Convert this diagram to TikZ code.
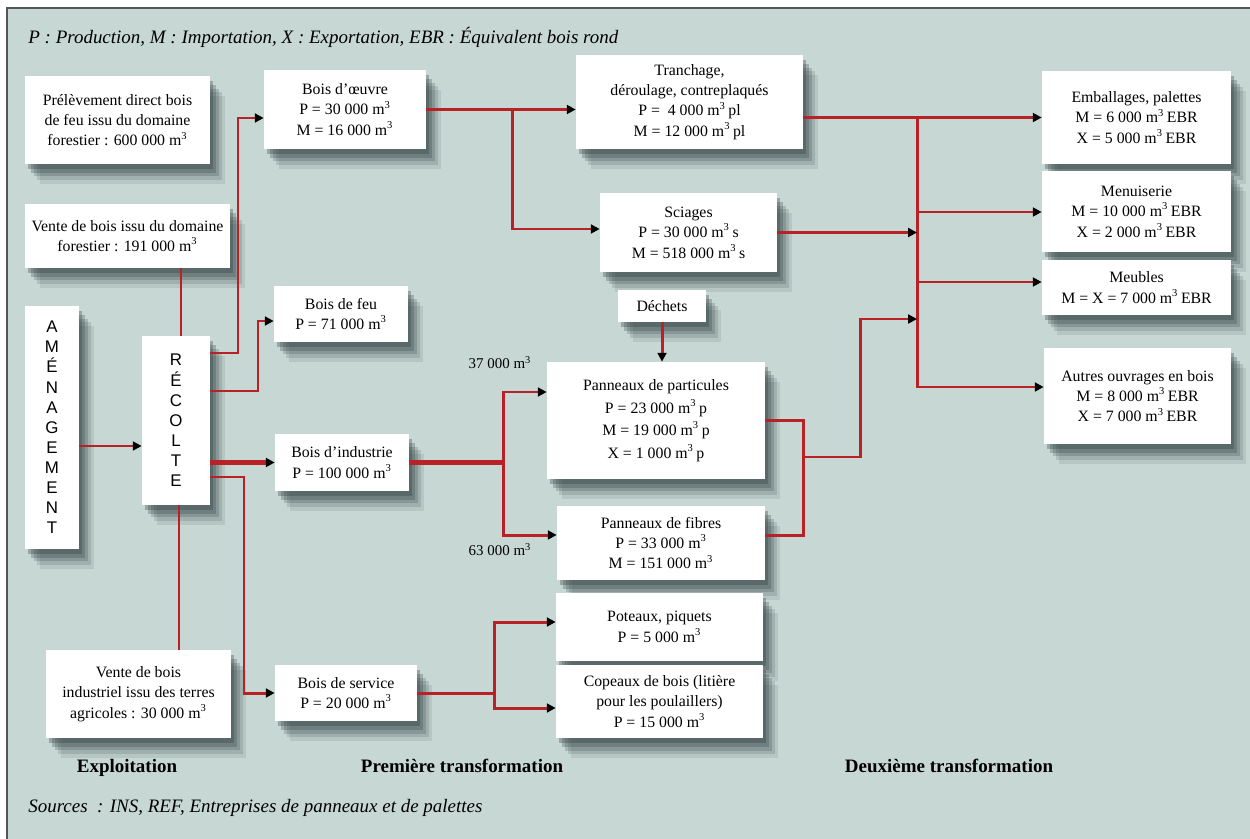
\documentclass[tikz,border=0pt]{standalone}
\usepackage{fontspec}
\setmainfont{Liberation Serif}
\newfontfamily\arialfont{Liberation Sans}
\usetikzlibrary{arrows.meta}
\definecolor{fondgris}{RGB}{199,215,212}
\definecolor{rougeflux}{RGB}{184,34,38}
\definecolor{ombre}{RGB}{40,55,55}
\definecolor{cadre}{RGB}{85,85,85}

\begin{document}
\begin{tikzpicture}[x=0.02cm,y=-0.02cm,
    ombrage/.style={
      preaction={fill=ombre,fill opacity=0.1,transform canvas={xshift=0.3cm,yshift=-0.4cm}},
      preaction={fill=ombre,fill opacity=0.15,transform canvas={xshift=0.24cm,yshift=-0.32cm}},
      preaction={fill=ombre,fill opacity=0.2,transform canvas={xshift=0.18cm,yshift=-0.25cm}},
      preaction={fill=ombre,fill opacity=0.25,transform canvas={xshift=0.12cm,yshift=-0.18cm}},
      preaction={fill=ombre,fill opacity=0.3,transform canvas={xshift=0.06cm,yshift=-0.1cm}}},
    boite/.style={ombrage,fill=white,inner sep=0pt,align=center,font=\fontsize{9}{11.6}\selectfont},
    lettres/.style={boite,font=\arialfont\fontsize{9.6}{11.45}\selectfont},
    titre/.style={anchor=base,font=\bfseries\fontsize{10.8}{13}\selectfont},
    note/.style={anchor=base west,inner sep=0pt,font=\itshape\fontsize{10.8}{13}\selectfont},
    petit/.style={font=\fontsize{8.5}{10}\selectfont},
    flux/.style={draw=rougeflux,line width=1.7pt},
    grosflux/.style={draw=rougeflux,line width=2.6pt},
    >={Triangle[length=5pt,width=5pt,color=black]}]
    \useasboundingbox (0,0) rectangle (1250,838);
    \fill[fondgris] (7,8) rectangle (1252,840);
    \draw[cadre,line width=1.2pt] (7,840) -- (7,8) -- (1252,8);
    \node[note] (legende) at (28,44) {P : Production, M : Importation, X : Exportation, EBR : Équivalent bois rond};
    \node[note] (sources) at (28,812) {Sources\ \ : INS, REF, Entreprises de panneaux et de palettes};
    \node[titre] (exploit) at (127,772) {Exploitation};
    \node[titre] (premiere) at (462,772) {Première transformation};
    \node[titre] (deuxieme) at (949,772) {Deuxième transformation};
    \node[boite,minimum width=3.7cm,minimum height=1.76cm] (prelev) at (117.5,120) {Prélèvement direct bois\\de feu issu du domaine\\forestier : 600 000 m\textsuperscript{3}};
    \node[boite,minimum width=4.1cm,minimum height=1.28cm] (ventedom) at (127.5,236) {Vente de bois issu du domaine\\forestier : 191 000 m\textsuperscript{3}};
    \node[lettres,minimum width=1.08cm,minimum height=4.86cm] (amenag) at (52,427.5) {A\\M\\É\\N\\A\\G\\E\\M\\E\\N\\T};
    \node[lettres,minimum width=1.36cm,minimum height=3.38cm] (recolte) at (176,420.5) {R\\É\\C\\O\\L\\T\\E};
    \node[boite,minimum width=3.7cm,minimum height=1.76cm] (venteind) at (138.5,694) {Vente de bois\\industriel issu des terres\\agricoles : 30 000 m\textsuperscript{3}};
    \node[boite,minimum width=3.24cm,minimum height=1.58cm] (oeuvre) at (345,109.5) {Bois d’œuvre\\P = 30 000 m\textsuperscript{3}\\M = 16 000 m\textsuperscript{3}};
    \node[boite,minimum width=2.68cm,minimum height=1.12cm] (feu) at (341,314) {Bois de feu\\P = 71 000 m\textsuperscript{3}};
    \node[boite,minimum width=2.68cm,minimum height=1.14cm] (industrie) at (342,462.5) {Bois d’industrie\\P = 100 000 m\textsuperscript{3}};
    \node[boite,minimum width=2.84cm,minimum height=1.12cm] (service) at (346,693) {Bois de service\\P = 20 000 m\textsuperscript{3}};
    \node[boite,minimum width=4.54cm,minimum height=1.88cm] (tranchage) at (689.5,102) {Tranchage,\\déroulage, contreplaqués\\P =\ \ 4 000 m\textsuperscript{3}\,pl\\M = 12 000 m\textsuperscript{3}\,pl};
    \node[boite,minimum width=3.54cm,minimum height=1.58cm] (sciages) at (688.5,232.5) {Sciages\\P = 30 000 m\textsuperscript{3}\,s\\M = 518 000 m\textsuperscript{3}\,s};
    \node[boite,minimum width=1.76cm,minimum height=0.64cm] (dechets) at (662,306) {Déchets};
    \node[boite,minimum width=4.36cm,minimum height=2.34cm,font=\fontsize{9}{12.8}\selectfont] (particules) at (656,420.5) {Panneaux de particules\\P = 23 000 m\textsuperscript{3}\,p\\M = 19 000 m\textsuperscript{3}\,p\\X = 1 000 m\textsuperscript{3}\,p};
    \node[boite,minimum width=4.16cm,minimum height=1.48cm] (fibres) at (661,543) {Panneaux de fibres\\P = 33 000 m\textsuperscript{3}\\M = 151 000 m\textsuperscript{3}};
    \node[boite,minimum width=4.14cm,minimum height=1.36cm] (poteaux) at (659.5,627) {Poteaux, piquets\\P = 5 000 m\textsuperscript{3}};
    \node[boite,minimum width=4.14cm,minimum height=1.46cm] (copeaux) at (659.5,701.5) {Copeaux de bois (litière\\pour les poulaillers)\\P = 15 000 m\textsuperscript{3}};
    \node[boite,minimum width=3.78cm,minimum height=1.86cm] (emballages) at (1136.5,117.5) {Emballages, palettes\\M = 6 000 m\textsuperscript{3}\,EBR\\X = 5 000 m\textsuperscript{3}\,EBR};
    \node[boite,minimum width=3.78cm,minimum height=1.62cm] (menuiserie) at (1136.5,211.5) {Menuiserie\\M = 10 000 m\textsuperscript{3}\,EBR\\X = 2 000 m\textsuperscript{3}\,EBR};
    \node[boite,minimum width=3.78cm,minimum height=1.1cm] (meubles) at (1136.5,287.5) {Meubles\\M = X = 7 000 m\textsuperscript{3}\,EBR};
    \node[boite,minimum width=3.74cm,minimum height=1.92cm] (autres) at (1137.5,396) {Autres ouvrages en bois\\M = 8 000 m\textsuperscript{3}\,EBR\\X = 7 000 m\textsuperscript{3}\,EBR};
    \node[petit] (q37) at (500,363) {37 000 m\textsuperscript{3}};
    \node[petit] (q63) at (500,550) {63 000 m\textsuperscript{3}};
    \coordinate (b1) at (512,109.5);
    \coordinate (b2) at (803,457);
    \coordinate (b3) at (503,462.5);
    \coordinate (b4) at (494,693);
    \coordinate (bus1) at (917,117.5);
    \coordinate (bus2) at (917,387);
    \draw[flux,->] (amenag.east |- 0,446) -- (recolte.west |- 0,446);
    \draw[flux] (ventedom.south -| 181,0) -- (recolte.north -| 181,0);
    \draw[flux] (venteind.north -| 179,0) -- (recolte.south -| 179,0);
    \draw[flux,->] (recolte.east |- 0,353) -| (238,118) -- (oeuvre.west |- 0,118);
    \draw[flux,->] (recolte.east |- 0,391) -| (258,321) -- (feu.west |- 0,321);
    \draw[grosflux,->] (recolte.east |- industrie.west) -- (industrie.west);
    \draw[flux,->] (recolte.east |- 0,477) -| (244,693) -- (service.west);
    \draw[flux,->] (oeuvre.east) -- (tranchage.west |- oeuvre.east);
    \draw[flux,->] (b1) |- (sciages.west |- 0,229);
    \draw[flux,->] (tranchage.east |- emballages.west) -- (emballages.west);
    \draw[flux,->] (bus1) -- (bus2) -- (autres.west |- bus2);
    \draw[flux,->] (bus1 |- 0,212) -- (menuiserie.west |- 0,212);
    \draw[flux,->] (bus1 |- 0,282) -- (meubles.west |- 0,282);
    \draw[flux,->] (sciages.east) -- (bus1 |- sciages.east);
    \draw[flux] (particules.east) -| (803,535) -- (fibres.east |- 0,535);
    \draw[flux,->] (b2) -- (860,457) |- (bus1 |- 0,319);
    \draw[grosflux] (industrie.east) -- (b3);
    \draw[flux,->] (b3) |- (particules.west |- 0,392);
    \draw[flux,->] (b3) |- (fibres.west |- 0,535);
    \draw[flux,->] (dechets.south) -- (dechets.south |- particules.north);
    \draw[flux] (service.east) -- (b4);
    \draw[flux,->] (b4) |- (poteaux.west |- 0,622);
    \draw[flux,->] (b4) |- (copeaux.west |- 0,708);
\end{tikzpicture}
\end{document}
